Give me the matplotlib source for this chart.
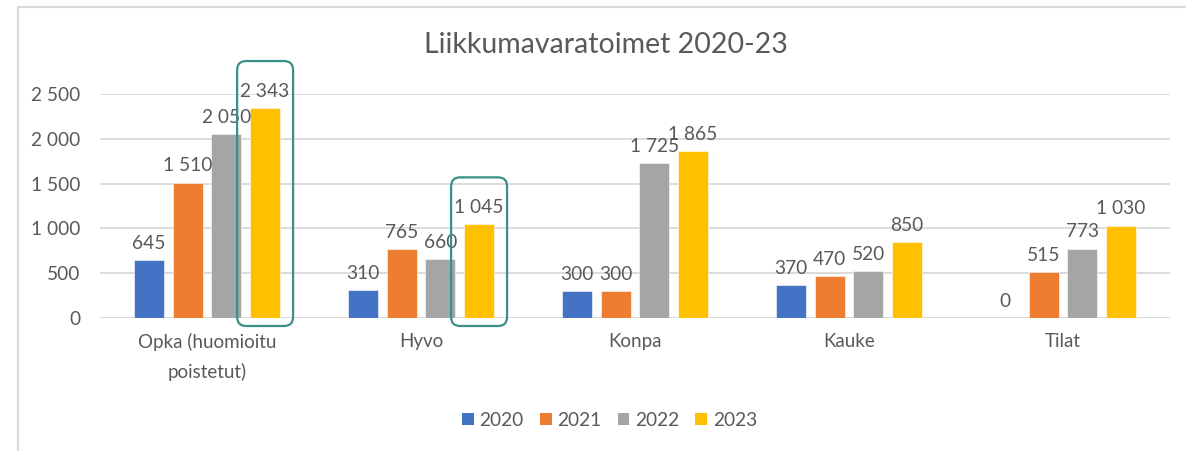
import numpy as np
import matplotlib.pyplot as plt
from matplotlib.patches import FancyBboxPatch, Patch, Rectangle

plt.rcParams["font.family"] = ["Lato", "DejaVu Sans"]

text_color = "#595959"
grid_color = "#d9d9d9"
box_color = "#3a9088"
fs = 13.8

categories = ["Opka (huomioitu\npoistetut)", "Hyvo", "Konpa", "Kauke", "Tilat"]
years = ["2020", "2021", "2022", "2023"]
colors = ["#4472c4", "#ed7d31", "#a5a5a5", "#ffc000"]
v2020 = [645, 310, 300, 370, 0]
v2021 = [1510, 765, 300, 470, 515]
v2022 = [2050, 660, 1725, 520, 773]
v2023 = [2343, 1045, 1865, 850, 1030]
series = [v2020, v2021, v2022, v2023]
# (category index, series index) of the bars with a highlight box
highlights = [(0, 3), (1, 3)]

fig = plt.figure(figsize=(11.86, 4.51), dpi=100)
ax = fig.add_axes([0.0843, 0.2949, 0.9022, 0.4967])

x = np.arange(len(categories))
pitch = 0.181
width = 0.14
bars = []
for j, vals in enumerate(series):
    b = ax.bar(x + (j - 1.5) * pitch, vals, width, color=colors[j], label=years[j],
               edgecolor="white", linewidth=0.4, zorder=3)
    bars.append(b)
    for xi, v in zip(x + (j - 1.5) * pitch, vals):
        ax.annotate(f"{v:,}".replace(",", " "), (xi, v), xytext=(0, 6),
                    textcoords="offset points", ha="center", va="bottom",
                    fontsize=fs, color=text_color, zorder=4)

ax.set_xlim(-0.5, len(categories) - 0.5)
ax.set_ylim(0, 2500)
ax.set_yticks(np.arange(0, 2501, 500))
ax.set_yticklabels([f"{t:,}".replace(",", " ") for t in range(0, 2501, 500)])
ax.set_xticks(x)
ax.set_xticklabels(categories, linespacing=1.75)
ax.tick_params(axis="y", length=0, pad=14, labelsize=fs, labelcolor=text_color)
ax.tick_params(axis="x", length=0, pad=11, labelsize=13.5, labelcolor=text_color)
ax.grid(axis="y", color=grid_color, linewidth=1.3, zorder=0)
for s in ax.spines.values():
    s.set_visible(False)
ax.axhline(0, color=grid_color, linewidth=1.3, zorder=1)

fig.text(0.511, 0.9, "Liikkumavaratoimet 2020-23", ha="center", va="center",
         fontsize=20.5, color=text_color)

handles = [Patch(facecolor=c, edgecolor="none") for c in colors]
fig.legend(handles, years, loc="center", bbox_to_anchor=(0.514, 0.068), ncol=4,
           frameon=False, fontsize=fs, labelcolor=text_color,
           handlelength=0.6, handleheight=0.6, handletextpad=0.3, columnspacing=0.85)

# highlight boxes drawn in pixel space around the chosen bars
fig.canvas.draw()
for ci, sj in highlights:
    bar = bars[sj][ci]
    (x0, y0), (x1, y1) = ax.transData.transform(
        [(bar.get_x(), 0), (bar.get_x() + bar.get_width(), bar.get_height())])
    box = FancyBboxPatch((x0 - 13, y0 - 8), (x1 - x0) + 26, (y1 - y0) + 55,
                         boxstyle="round,pad=0,rounding_size=9", transform=None,
                         fill=False, edgecolor=box_color, linewidth=1.6, zorder=5)
    fig.add_artist(box)

# light frame at top and left
fig.add_artist(Rectangle((0.0152, -0.05), 1.1, 1.034, transform=fig.transFigure,
                         fill=False, edgecolor=grid_color, linewidth=1.6))

fig.savefig("out.png", dpi=100)
